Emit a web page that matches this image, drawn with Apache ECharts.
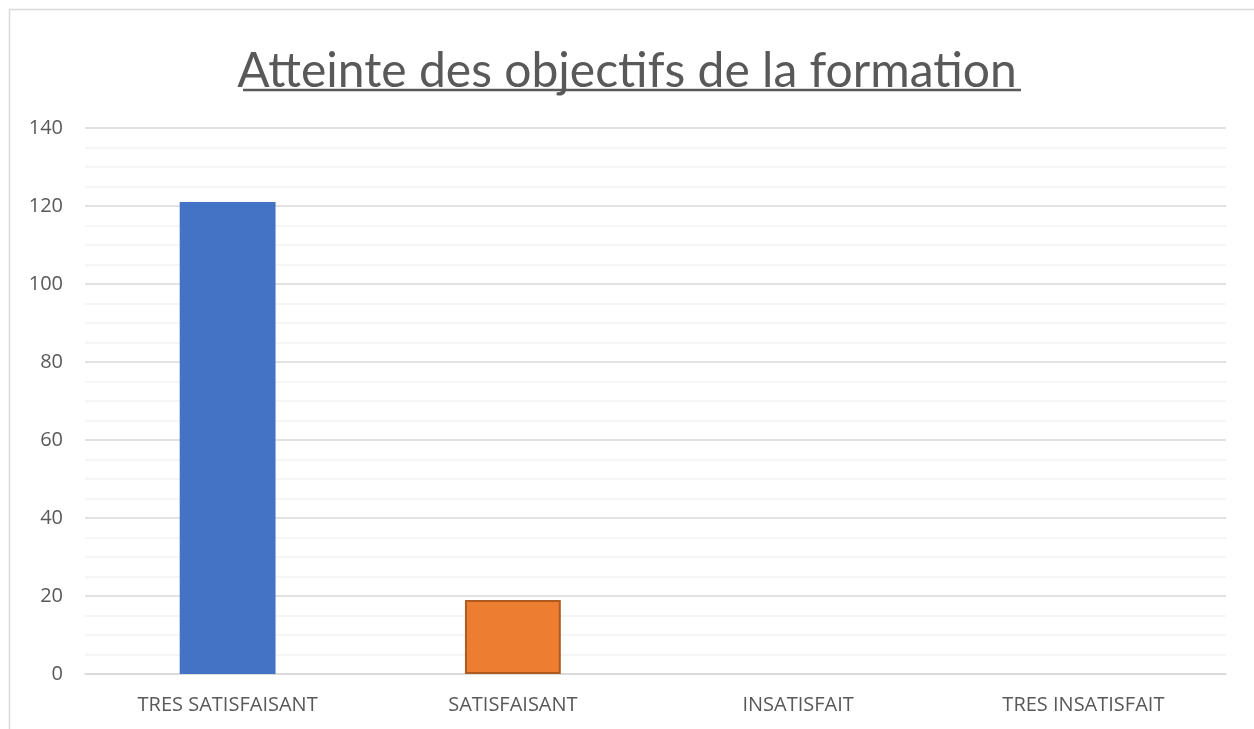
<!DOCTYPE html>
<html>
<head>
<meta charset="utf-8">
<style>
  html, body { margin: 0; padding: 0; background: #fff; }
  #chart { width: 1254px; height: 729px; }
</style>
<script src="https://cdn.jsdelivr.net/npm/echarts@6/dist/echarts.min.js"></script>
</head>
<body>
<div id="chart"></div>
<script>
const categories = ['TRES SATISFAISANT', 'SATISFAISANT', 'INSATISFAIT', 'TRES INSATISFAIT'];
const responses = [121, 19, 0, 0];
const barColors = ['#4472C4', '#ED7D31', '#A5A5A5', '#FFC000'];
const barBorders = ['#4472C4', '#AE5A21', '#A5A5A5', '#FFC000'];

const titleText = 'Atteinte des objectifs de la formation';
const titleFamily = 'Lato';

// fit the title into the width it has in the picture (243..1021)
const measure = (text, size) => {
  const ctx = document.createElement('canvas').getContext('2d');
  ctx.font = `${size}px "${titleFamily}"`;
  return ctx.measureText(text).width;
};
const titleSize = Math.round(48 * 778 / measure(titleText, 48));

const chart = echarts.init(document.getElementById('chart'));

chart.setOption({
  animation: false,
  title: {
    text: titleText,
    left: 'center',
    top: 81 - Math.round(titleSize * 0.8),
    textStyle: {
      fontFamily: titleFamily,
      fontSize: titleSize,
      fontWeight: 'normal',
      color: '#595959'
    }
  },
  graphic: [
    {
      type: 'rect',
      shape: { x: 9.5, y: 9.5, width: 1250, height: 740 },
      style: { fill: 'none', stroke: '#d9d9d9', lineWidth: 1.5 },
      silent: true
    },
    {
      type: 'line',
      shape: { x1: 243, y1: 90, x2: 1021, y2: 90 },
      style: { stroke: '#595959', lineWidth: 2.5 },
      silent: true
    }
  ],
  grid: {
    left: 85,
    right: 28,
    top: 128,
    bottom: 55
  },
  xAxis: {
    type: 'category',
    data: categories,
    axisTick: { show: false },
    axisLine: { lineStyle: { color: '#d9d9d9', width: 1.5 } },
    axisLabel: {
      color: '#595959',
      fontFamily: 'Open Sans',
      fontSize: 20,
      margin: 21
    }
  },
  yAxis: {
    type: 'value',
    min: 0,
    max: 140,
    interval: 20,
    axisLine: { show: false },
    axisTick: { show: false },
    axisLabel: {
      color: '#595959',
      fontFamily: 'Open Sans',
      fontSize: 20,
      margin: 22
    },
    splitLine: { lineStyle: { color: '#d9d9d9', width: 1.5 } },
    minorTick: { show: false, splitNumber: 4 },
    minorSplitLine: { show: true, lineStyle: { color: '#f2f2f2', width: 1.5 } }
  },
  series: [
    {
      type: 'bar',
      barWidth: '33.6%',
      data: responses.map((v, i) => ({
        value: v,
        itemStyle: {
          color: barColors[i],
          borderColor: barBorders[i],
          borderWidth: i === 1 ? 2 : 0
        }
      }))
    }
  ]
});
</script>
</body>
</html>
